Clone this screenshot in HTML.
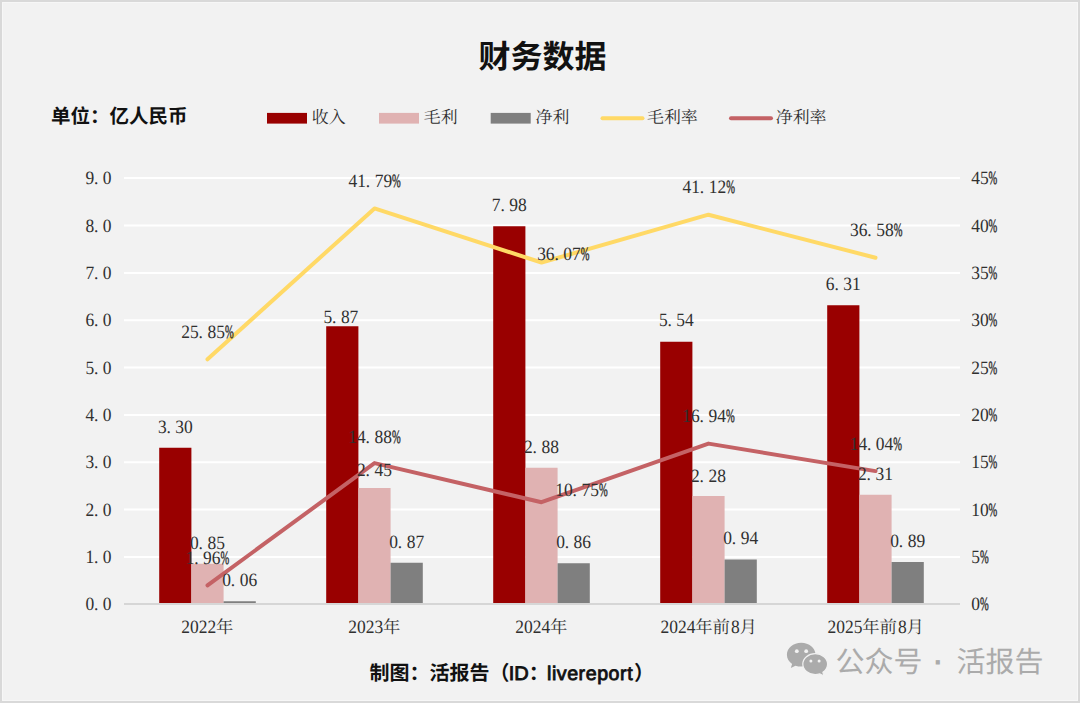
<!DOCTYPE html>
<html lang="zh-CN">
<head>
<meta charset="utf-8">
<title>财务数据</title>
<style>
html,body{margin:0;padding:0;background:#f2f2f2}
body{width:1080px;height:703px;overflow:hidden;font-family:"Liberation Serif",serif}
#chart{position:relative;width:1080px;height:703px;overflow:hidden}
svg{position:absolute;left:0;top:0;display:block}
text{font-family:"Liberation Serif",serif;font-size:18.8px;fill:#303030;text-anchor:middle;text-rendering:geometricPrecision}
text.p{stroke:#303030;stroke-width:.45px}
text.b{font-family:"Liberation Sans",sans-serif;font-size:19.6px;fill:#111;stroke:#111;stroke-width:.85px;text-anchor:start}
text.cs{font-family:"Liberation Serif","Noto Serif CJK SC",serif;fill:#303030;text-anchor:start}
text.cb{font-family:"Liberation Sans","Noto Sans CJK SC",sans-serif;font-weight:bold;fill:#111;text-anchor:start}
text.wm{font-family:"Liberation Sans","Noto Sans CJK SC",sans-serif;font-size:29px;fill:#ababab;text-anchor:start}
</style>
</head>
<body>
<div id="chart">
<svg width="1080" height="703" viewBox="0 0 1080 703">
<rect x="0" y="0" width="1080" height="703" fill="#d9d9d9"/>
<rect x="2" y="2" width="1076" height="699" fill="#f2f2f2"/>
<rect x="2.5" y="2.5" width="1075" height="698" fill="none" stroke="#f7f7f7"/>
<path d="M124 557H960M124 509.6H960M124 462.3H960M124 415H960M124 367.6H960M124 320.3H960M124 273H960M124 225.6H960M124 178H960" stroke="#fff" stroke-width="2" fill="none"/>
<path d="M159.2 447.8h32.2V603.2h-32.2zM326.2 326.2h32.2V603.2h-32.2zM493.2 226.3h32.2V603.2h-32.2zM660.2 341.8h32.2V603.2h-32.2zM827.2 305.3h32.2V603.2h-32.2z" fill="#990000"/>
<path d="M191.4 563.8h32.2V603.2h-32.2zM358.4 488h32.2V603.2h-32.2zM525.4 467.7h32.2V603.2h-32.2zM692.4 496.1h32.2V603.2h-32.2zM859.4 494.7h32.2V603.2h-32.2z" fill="#e0b2b2"/>
<path d="M223.6 601.2h32.2V603.2h-32.2zM390.6 562.8h32.2V603.2h-32.2zM557.6 563.3h32.2V603.2h-32.2zM724.6 559.5h32.2V603.2h-32.2zM891.6 561.9h32.2V603.2h-32.2z" fill="#7f7f7f"/>
<path d="M124 604H960" stroke="#d6d6d6" stroke-width="1.8" fill="none"/>
<polyline points="207.5,359.3 374.5,208.4 541.5,262.5 708.5,214.7 875.5,257.7" fill="none" stroke="#ffd966" stroke-width="4" stroke-linecap="round" stroke-linejoin="round"/>
<polyline points="207.5,585.4 374.5,463.1 541.5,502.2 708.5,443.6 875.5,471.1" fill="none" stroke="#c46265" stroke-width="4" stroke-linecap="round" stroke-linejoin="round"/>
<rect x="267" y="112.9" width="40" height="10.7" fill="#990000"/>
<rect x="379" y="112.9" width="40" height="10.7" fill="#e0b2b2"/>
<rect x="490.7" y="112.9" width="40" height="10.7" fill="#7f7f7f"/>
<path d="M602.5 118.2h40" stroke="#ffd966" stroke-width="4" stroke-linecap="round"/>
<path d="M731 118.2h40" stroke="#c46265" stroke-width="4" stroke-linecap="round"/>
<text class="cs" style="font-size:17.4px" x="216" y="632.5">年</text>
<text class="cs" style="font-size:17.4px" x="383" y="632.5">年</text>
<text class="cs" style="font-size:17.4px" x="550" y="632.5">年</text>
<text class="cs" style="font-size:17.4px" x="695.2" y="632.5">年前</text>
<text class="cs" style="font-size:17.4px" x="739.5" y="632.5">月</text>
<text class="cs" style="font-size:17.4px" x="862.2" y="632.5">年前</text>
<text class="cs" style="font-size:17.4px" x="906.5" y="632.5">月</text>
<text class="cs" style="font-size:16.9px" x="311.8" y="123">收入</text>
<text class="cs" style="font-size:16.9px" x="423.8" y="123">毛利</text>
<text class="cs" style="font-size:16.9px" x="535.6" y="123">净利</text>
<text class="cs" style="font-size:16.9px" x="647" y="123">毛利率</text>
<text class="cs" style="font-size:16.9px" x="775.8" y="123">净利率</text>
<text class="cb" style="font-size:32px;text-anchor:middle" x="542.5" y="67.5">财务数据</text>
<text class="cb" style="font-size:19.5px" x="51" y="122.5">单位：亿人民币</text>
<text class="cb" style="font-size:20px" x="369.5" y="680">制图：活报告（</text>
<text class="cb" style="font-size:20px" x="528.8" y="680">：</text>
<text class="cb" style="font-size:20px" x="634" y="680">）</text>
<text class="b" x="508.8" y="680" textLength="20" lengthAdjust="spacingAndGlyphs">ID</text>
<text class="b" x="547" y="680" textLength="85.6" lengthAdjust="spacing">livereport</text>
<text class="wm" x="835.5" y="671.5">公众号</text>
<text class="wm" style="text-anchor:middle;font-weight:bold" x="938.6" y="671.5">·</text>
<text class="wm" x="956.5" y="671.5">活报告</text>
<g fill="#ababab"><path d="M801.2 642.8c-7.9 0-14.3 5.4-14.3 12 0 3.7 2 7 5.200 9.200l-1.300 4.100 4.700-2.400c1.800.6 3.700.9 5.700.9 7.900 0 14.300-5.400 14.300-12s-6.400-11.800-14.300-11.800z"/><path d="M815.2 653.600c-6.800 0-12.400 4.700-12.400 10.500s5.600 10.500 12.400 10.500c1.600 0 3.200-.3 4.600-.7l4.200 2.100-1.100-3.700c2.900-1.900 4.700-4.900 4.700-8.200 0-5.800-5.600-10.500-12.400-10.500z" stroke="#f2f2f2" stroke-width="1.200"/></g>
<g fill="#f2f2f2"><circle cx="796.8" cy="651.2" r="1.900"/><circle cx="806.200" cy="651.2" r="1.900"/><circle cx="810.9" cy="660.9" r="1.500"/><circle cx="819.1" cy="660.9" r="1.500"/></g>
<g transform="scale(0.93 1)">
<text class="n" y="610" x="96.6 103.4 115.3">0.0</text>
<text class="n" y="563" x="96.6 103.4 115.3">1.0</text>
<text class="n" y="516" x="96.6 103.4 115.3">2.0</text>
<text class="n" y="468" x="96.6 103.4 115.3">3.0</text>
<text class="n" y="421" x="96.6 103.4 115.3">4.0</text>
<text class="n" y="374" x="96.6 103.4 115.3">5.0</text>
<text class="n" y="326" x="96.6 103.4 115.3">6.0</text>
<text class="n" y="279" x="96.6 103.4 115.3">7.0</text>
<text class="n" y="232" x="96.6 103.4 115.3">8.0</text>
<text class="n" y="184" x="96.6 103.4 115.3">9.0</text>
<text class="n" y="610" x="1049">0</text><text class="p" transform="translate(1058.4 610) scale(.6 1)">%</text>
<text class="n" y="563" x="1049">5</text><text class="p" transform="translate(1058.4 563) scale(.6 1)">%</text>
<text class="n" y="516" x="1049 1058.4">10</text><text class="p" transform="translate(1067.7 516) scale(.6 1)">%</text>
<text class="n" y="468" x="1049 1058.4">15</text><text class="p" transform="translate(1067.7 468) scale(.6 1)">%</text>
<text class="n" y="421" x="1049 1058.4">20</text><text class="p" transform="translate(1067.7 421) scale(.6 1)">%</text>
<text class="n" y="374" x="1049 1058.4">25</text><text class="p" transform="translate(1067.7 374) scale(.6 1)">%</text>
<text class="n" y="326" x="1049 1058.4">30</text><text class="p" transform="translate(1067.7 326) scale(.6 1)">%</text>
<text class="n" y="279" x="1049 1058.4">35</text><text class="p" transform="translate(1067.7 279) scale(.6 1)">%</text>
<text class="n" y="232" x="1049 1058.4">40</text><text class="p" transform="translate(1067.7 232) scale(.6 1)">%</text>
<text class="n" y="184" x="1049 1058.4">45</text><text class="p" transform="translate(1067.7 184) scale(.6 1)">%</text>
<text class="n" y="633" x="199.7 209.1 218.4 227.8">2022</text>
<text class="n" y="633" x="379.2 388.6 398 407.4">2023</text>
<text class="n" y="633" x="558.8 568.2 577.6 586.9">2024</text>
<text class="n" y="633" x="714.9 724.3 733.7 743.1">2024</text>
<text class="n" y="633" x="790.8">8</text>
<text class="n" y="633" x="894.5 903.9 913.3 922.6">2025</text>
<text class="n" y="633" x="970.4">8</text>
<text class="n" y="433" x="174.5 181.3 193.2 202.6">3.30</text>
<text class="n" y="549" x="209.1 215.9 227.8 237.2">0.85</text>
<text class="n" y="586" x="243.7 250.5 262.4 271.8">0.06</text>
<text class="n" y="323" x="352.5 359.4 371.3 380.6">5.87</text>
<text class="n" y="476" x="388.6 395.5 407.4 416.8">2.45</text>
<text class="n" y="548" x="423.2 430.1 442 451.4">0.87</text>
<text class="n" y="211" x="533.6 540.4 552.3 561.7">7.98</text>
<text class="n" y="453" x="568.2 575 586.9 596.3">2.88</text>
<text class="n" y="548" x="602.8 609.6 621.5 630.9">0.86</text>
<text class="n" y="326" x="713.2 720 731.9 741.3">5.54</text>
<text class="n" y="482" x="747.8 754.6 766.5 775.9">2.28</text>
<text class="n" y="544" x="782.4 789.2 801.1 810.5">0.94</text>
<text class="n" y="290" x="892.7 899.6 911.5 920.9">6.31</text>
<text class="n" y="480" x="927.3 934.2 946.1 955.5">2.31</text>
<text class="n" y="547" x="961.9 968.8 980.7 990.1">0.89</text>
<text class="n" y="338" x="199.7 209.1 215.9 227.8 237.2">25.85</text><text class="p" transform="translate(246.6 338) scale(.6 1)">%</text>
<text class="n" y="564" x="204.4 211.2 223.1 232.5">1.96</text><text class="p" transform="translate(241.9 564) scale(.6 1)">%</text>
<text class="n" y="187" x="379.5 388.8 395.7 407.6 417">41.79</text><text class="p" transform="translate(426.3 187) scale(.6 1)">%</text>
<text class="n" y="443" x="379.2 388.6 395.5 407.4 416.8">14.88</text><text class="p" transform="translate(426.1 443) scale(.6 1)">%</text>
<text class="n" y="260" x="582.3 591.6 598.5 610.4 619.8">36.07</text><text class="p" transform="translate(629.1 260) scale(.6 1)">%</text>
<text class="n" y="496" x="601.8 611.2 618 630 639.3">10.75</text><text class="p" transform="translate(648.7 496) scale(.6 1)">%</text>
<text class="n" y="193" x="738.6 748 754.8 766.7 776.1">41.12</text><text class="p" transform="translate(785.5 193) scale(.6 1)">%</text>
<text class="n" y="422" x="738.4 747.8 754.6 766.5 775.9">16.94</text><text class="p" transform="translate(785.3 422) scale(.6 1)">%</text>
<text class="n" y="236" x="918.8 928.2 935 946.9 956.3">36.58</text><text class="p" transform="translate(965.7 236) scale(.6 1)">%</text>
<text class="n" y="450" x="918.3 927.7 934.5 946.4 955.8">14.04</text><text class="p" transform="translate(965.2 450) scale(.6 1)">%</text>
</g>
</svg>
</div>
</body>
</html>
